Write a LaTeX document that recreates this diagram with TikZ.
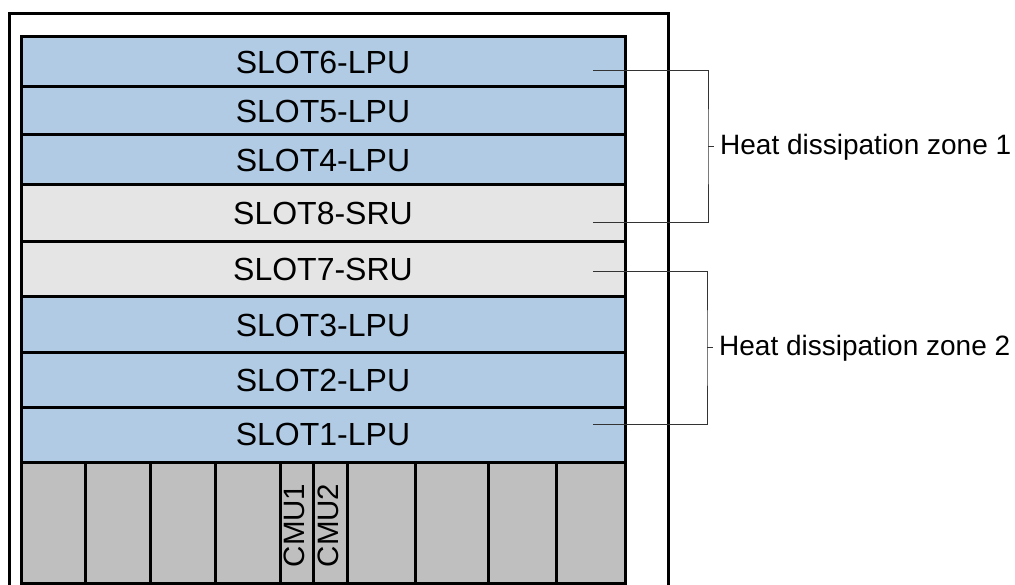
\documentclass[tikz,border=0pt]{standalone}
\usepackage{fontspec}
\setmainfont{Liberation Sans}
\usetikzlibrary{positioning}
\definecolor{lpublue}{HTML}{B0CBE3}
\definecolor{srugray}{HTML}{E5E5E5}
\definecolor{traygray}{HTML}{BFBFBF}
\tikzset{
  slotbox/.style={draw,line width=3pt,outer sep=0pt,inner sep=0pt,minimum width=604pt,font=\fontsize{32}{35}\selectfont},
  lpu/.style={slotbox,fill=lpublue},
  sru/.style={slotbox,fill=srugray},
  traycell/.style={draw,line width=3pt,outer sep=0pt,inner sep=0pt,fill=traygray,minimum height=121pt},
  cmulabel/.style={rotate=90,inner sep=0pt,font=\fontsize{29.5}{32}\selectfont},
  bracket/.style={line width=1pt,black!80},
  zonelabel/.style={anchor=west,inner xsep=12pt,inner ysep=0pt,font=\fontsize{28}{31}\selectfont}
}
\begin{document}
\begin{tikzpicture}[x=1pt,y=-1pt]
\useasboundingbox (0,0) rectangle (1015,585);
% chassis frame (open at the bottom)
\draw[line width=3pt] (9.5,585) -- (9.5,14) -- (668,14) -- (668,585);
% slots
\node[lpu,minimum height=50pt,anchor=north west] (s6) at (21,37) {SLOT6-LPU};
\node[lpu,minimum height=48pt,below=0pt of s6] (s5) {SLOT5-LPU};
\node[lpu,minimum height=50pt,below=0pt of s5] (s4) {SLOT4-LPU};
\node[sru,minimum height=57pt,below=0pt of s4] (s8) {SLOT8-SRU};
\node[sru,minimum height=55pt,below=0pt of s8] (s7) {SLOT7-SRU};
\node[lpu,minimum height=56pt,below=0pt of s7] (s3) {SLOT3-LPU};
\node[lpu,minimum height=54pt,below=0pt of s3] (s2) {SLOT2-LPU};
\node[lpu,minimum height=55pt,below=0pt of s2] (s1) {SLOT1-LPU};
% fan / CMU tray
\node[traycell,minimum width=64.5pt,anchor=north west] (t1) at (s1.south west) {};
\node[traycell,minimum width=64.5pt,right=0pt of t1] (t2) {};
\node[traycell,minimum width=65pt,right=0pt of t2] (t3) {};
\node[traycell,minimum width=65pt,right=0pt of t3] (t4) {};
\node[traycell,minimum width=33pt,right=0pt of t4] (cmu1) {};
\node[traycell,minimum width=34pt,right=0pt of cmu1] (cmu2) {};
\node[traycell,minimum width=68pt,right=0pt of cmu2] (t7) {};
\node[traycell,minimum width=73pt,right=0pt of t7] (t8) {};
\node[traycell,minimum width=68pt,right=0pt of t8] (t9) {};
\node[traycell,minimum width=69pt,right=0pt of t9] (t10) {};
\node[cmulabel] (cmu1lab) at ([xshift=-2pt,yshift=-3pt]cmu1.center) {CMU1};
\node[cmulabel] (cmu2lab) at ([xshift=-2pt,yshift=-3pt]cmu2.center) {CMU2};
% heat dissipation zones
\node[zonelabel] (zone1) at (708,147) {Heat dissipation zone 1};
\node[zonelabel] (zone2) at (707,348) {Heat dissipation zone 2};
\coordinate (z1top) at (593,71);
\coordinate (z1bot) at (593,223);
\coordinate (z2top) at (593,272);
\coordinate (z2bot) at (593,424);
\draw[bracket] (z1top) -| (zone1.west) |- (z1bot);
\draw[bracket] (zone1.west) -- ++(6,0);
\draw[bracket] (z2top) -| (zone2.west) |- (z2bot);
\draw[bracket] (zone2.west) -- ++(6,0);
\end{tikzpicture}
\end{document}
